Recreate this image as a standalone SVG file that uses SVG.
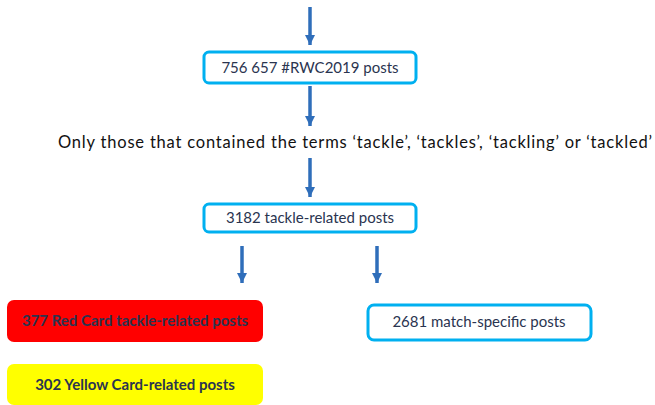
<svg xmlns="http://www.w3.org/2000/svg" width="655" height="405" viewBox="0 0 655 405">
<defs>
<marker id="ah" viewBox="0 0 10 10" refX="10" refY="5" markerWidth="3" markerHeight="3" markerUnits="strokeWidth" orient="auto">
<path d="M0,0 L10,5 L0,10 Z" fill="#2F6EBA"/>
</marker>
<style>
.box{fill:#fff;stroke:#00B0F0;stroke-width:3}
.t{font-family:Lato,"Open Sans","Liberation Sans",sans-serif;font-size:15px;fill:#2A3450;text-anchor:middle}
.b{font-weight:bold}
.c{stroke:#2F6EBA;stroke-width:3.5;fill:none;marker-end:url(#ah)}
</style>
</defs>
<rect width="655" height="405" fill="#fff"/>
<g id="connectors">
<line class="c" x1="310" y1="7" x2="310" y2="45"/>
<line class="c" x1="310" y1="86" x2="310" y2="126"/>
<line class="c" x1="310" y1="158" x2="310" y2="197"/>
<line class="c" x1="242" y1="246" x2="242" y2="283"/>
<line class="c" x1="377" y1="246" x2="377" y2="283"/>
</g>
<g id="n1">
<rect class="box" x="204" y="52" width="212" height="31" rx="5"/>
<text class="t" x="310" y="73">756 657 #RWC2019 posts</text>
</g>
<g id="n2">
<text x="355" y="148" font-family="Lato,'Open Sans','Liberation Sans',sans-serif" font-size="16.5" fill="#111" text-anchor="middle" textLength="594">Only those that contained the terms ‘tackle’, ‘tackles’, ‘tackling’ or ‘tackled’</text>
</g>
<g id="n3">
<rect class="box" x="204" y="204" width="212" height="28" rx="5"/>
<text class="t" x="310" y="223">3182 tackle-related posts</text>
</g>
<g id="n4">
<rect x="7" y="300" width="256" height="42" rx="7" fill="#FF0000"/>
<text class="t b" x="135" y="326">377 Red Card tackle-related posts</text>
</g>
<g id="n5">
<rect x="7" y="364" width="256" height="41" rx="7" fill="#FFFF00"/>
<text class="t b" x="135" y="390">302 Yellow Card-related posts</text>
</g>
<g id="n6">
<rect class="box" x="368" y="305" width="223" height="35" rx="6"/>
<text class="t" x="479" y="327">2681 match-specific posts</text>
</g>
</svg>
